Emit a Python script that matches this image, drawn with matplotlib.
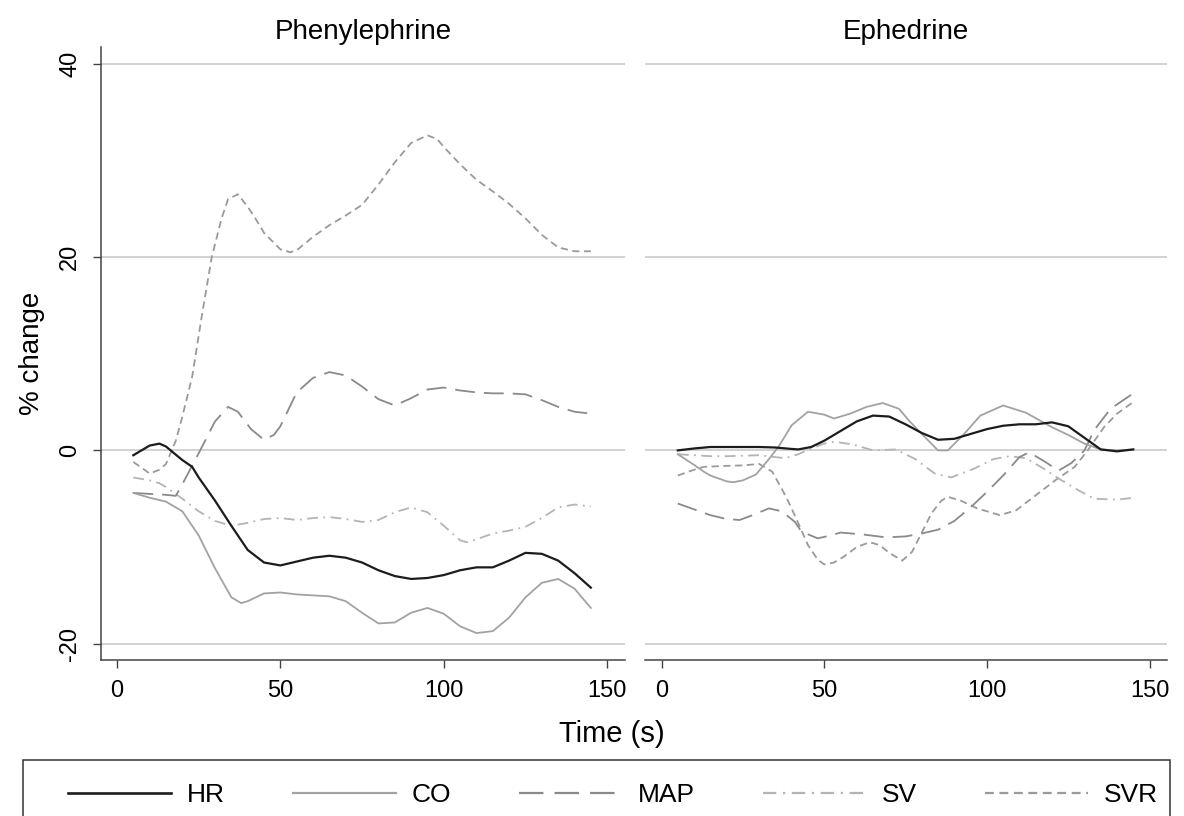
import matplotlib.pyplot as plt
from matplotlib.lines import Line2D
from matplotlib.patches import Rectangle

# Phenylephrine panel (time in s, % change)
phe_hr_t = [5, 10, 13, 15, 20, 23, 25, 30, 35, 40, 45, 50, 55, 60, 65, 70, 75, 80, 85, 90,
            95, 100, 105, 110, 115, 120, 125, 130, 135, 140, 145]
phe_hr = [-0.5, 0.5, 0.7, 0.4, -1.0, -1.7, -2.8, -5.2, -7.8, -10.3, -11.6, -11.9, -11.5, -11.1, -10.9,
          -11.1, -11.6, -12.4, -13.0, -13.3, -13.2, -12.9, -12.4, -12.1, -12.1, -11.4, -10.6, -10.7,
          -11.4, -12.7, -14.2]

phe_co_t = [5, 10, 15, 20, 25, 30, 35, 38, 40, 45, 50, 55, 60, 65, 70, 75, 80, 85, 90, 95,
            100, 105, 110, 115, 120, 125, 130, 135, 140, 145]
phe_co = [-4.4, -4.9, -5.3, -6.3, -8.8, -12.2, -15.2, -15.8, -15.6, -14.8, -14.7, -14.9, -15.0, -15.1,
          -15.6, -16.8, -17.9, -17.8, -16.8, -16.3, -16.9, -18.2, -18.9, -18.7, -17.3, -15.2, -13.7,
          -13.3, -14.3, -16.3]

phe_map_t = [5, 10, 15, 18, 20, 25, 30, 34, 37, 41, 45, 48, 50, 55, 60, 65, 70, 75, 80, 85,
             90, 95, 100, 105, 110, 115, 120, 125, 130, 135, 140, 145]
phe_map = [-4.4, -4.5, -4.6, -4.7, -3.5, -0.3, 3.0, 4.5, 4.0, 2.2, 1.1, 1.6, 2.5, 6.0, 7.5, 8.1, 7.75,
           6.6, 5.3, 4.65, 5.4, 6.3, 6.5, 6.2, 6.0, 5.9, 5.9, 5.8, 5.2, 4.5, 4.0, 3.8]

phe_sv_t = [5, 10, 13, 15, 20, 25, 30, 35, 40, 45, 50, 55, 60, 65, 70, 75, 80, 85, 90, 95,
            100, 105, 107, 110, 115, 120, 125, 130, 135, 140, 145]
phe_sv = [-2.8, -3.1, -3.4, -3.8, -5.0, -6.3, -7.3, -7.8, -7.5, -7.1, -7.0, -7.2, -7.0, -6.9, -7.1,
          -7.4, -7.2, -6.4, -5.9, -6.4, -7.8, -9.3, -9.5, -9.2, -8.6, -8.3, -7.9, -7.0, -5.9, -5.6, -5.8]

phe_svr_t = [5, 8, 10, 13, 15, 18, 20, 23, 26, 29, 32, 34, 37, 40, 42, 45, 50, 53, 55, 60,
             65, 70, 75, 80, 85, 90, 95, 98, 100, 105, 110, 115, 120, 125, 130, 135, 140, 145]
phe_svr = [-1.2, -1.9, -2.4, -2.0, -1.4, 1.0, 3.5, 7.6, 14.0, 20.0, 24.0, 26.0, 26.5, 25.2, 24.2,
           22.5, 20.8, 20.5, 20.7, 22.1, 23.3, 24.3, 25.4, 27.5, 29.8, 31.8, 32.6, 32.2, 31.4,
           29.6, 28.0, 26.8, 25.5, 24.0, 22.3, 21.0, 20.6, 20.6]

# Ephedrine panel
eph_hr_t = [5, 10, 15, 20, 25, 30, 35, 40, 42, 46, 50, 55, 60, 65, 70, 75, 80, 85, 90, 95,
            100, 105, 110, 115, 120, 125, 130, 135, 140, 145]
eph_hr = [0.0, 0.2, 0.35, 0.35, 0.35, 0.35, 0.3, 0.15, 0.1, 0.35, 1.0, 2.0, 3.0, 3.6, 3.5, 2.7, 1.8,
          1.1, 1.2, 1.7, 2.2, 2.55, 2.7, 2.7, 2.9, 2.5, 1.3, 0.1, -0.1, 0.1]

eph_co_t = [5, 10, 13, 15, 20, 22, 25, 29, 33, 36, 40, 45, 50, 53, 58, 63, 68, 73, 76, 80,
            85, 88, 93, 98, 105, 112, 120, 125, 130, 135, 140, 145]
eph_co = [-0.4, -1.5, -2.2, -2.6, -3.2, -3.3, -3.1, -2.5, -0.9, 0.4, 2.6, 4.0, 3.7, 3.3, 3.8, 4.5,
          4.9, 4.3, 3.1, 1.7, 0.0, 0.0, 1.7, 3.6, 4.65, 3.9, 2.4, 1.6, 0.7, 0.1, 0.0, 0.1]

eph_map_t = [5, 10, 15, 20, 24, 28, 33, 37, 41, 43, 48, 52, 55, 62, 69, 75, 80, 85, 90, 95,
             100, 105, 110, 113, 118, 122, 126, 130, 133, 138, 145]
eph_map = [-5.5, -6.1, -6.7, -7.1, -7.2, -6.7, -6.0, -6.3, -7.4, -8.4, -9.1, -8.8, -8.5, -8.7, -9.0,
           -8.9, -8.6, -8.2, -7.3, -5.9, -4.3, -2.6, -0.7, -0.2, -1.2, -2.1, -1.3, 0.0, 2.1, 4.3, 5.9]

eph_sv_t = [5, 10, 15, 20, 25, 30, 35, 38, 42, 46, 50, 53, 59, 65, 72, 78, 84, 89, 96, 102,
            107, 112, 118, 122, 128, 133, 140, 145]
eph_sv = [-0.4, -0.5, -0.6, -0.6, -0.55, -0.5, -0.7, -0.8, -0.4, 0.2, 0.7, 0.9, 0.6, 0.0, 0.1, -0.9,
          -2.4, -2.8, -1.9, -0.9, -0.6, -0.8, -2.0, -2.9, -4.1, -5.0, -5.1, -4.9]

eph_svr_t = [5, 10, 13, 20, 25, 30, 34, 37, 39, 42, 45, 48, 50, 53, 56, 60, 64, 67, 70, 74,
             77, 80, 83, 86, 88, 92, 97, 104, 109, 115, 121, 127, 131, 136, 140, 145]
eph_svr = [-2.6, -2.0, -1.7, -1.6, -1.55, -1.4, -2.2, -4.0, -5.3, -7.5, -9.8, -11.3, -11.8, -11.6,
           -11.0, -10.0, -9.5, -9.8, -10.6, -11.4, -10.5, -8.5, -6.5, -5.2, -4.8, -5.2, -6.0, -6.7,
           -6.2, -4.65, -3.1, -1.7, 0.0, 2.4, 3.8, 5.0]

panel_titles = ['Phenylephrine', 'Ephedrine']
series_labels = ['HR', 'CO', 'MAP', 'SV', 'SVR']
y_ticks = [-20, 0, 20, 40]
x_ticks = [0, 50, 100, 150]

# line styles: colour, width, dash pattern
styles = {
    'HR': dict(color='#1c1c1c', lw=1.6, dashes=()),
    'CO': dict(color='#a2a2a2', lw=1.3, dashes=()),
    'MAP': dict(color='#8a8a8a', lw=1.3, dashes=(11, 5)),
    'SV': dict(color='#b4b4b4', lw=1.3, dashes=(6, 3, 1, 3)),
    'SVR': dict(color='#9a9a9a', lw=1.3, dashes=(4, 2.5)),
}


def draw_line(ax, t, v, name):
    st = styles[name]
    line, = ax.plot(t, v, color=st['color'], lw=st['lw'])
    if st['dashes']:
        line.set_dashes(st['dashes'])
    return line


def main():
    plt.rcParams['font.family'] = ['Liberation Sans', 'DejaVu Sans']
    plt.rcParams['axes.unicode_minus'] = False

    fig = plt.figure(figsize=(11.84, 8.16), dpi=100)
    ax1 = fig.add_axes([0.085, 0.191, 0.443, 0.751])
    ax2 = fig.add_axes([0.545, 0.191, 0.441, 0.751])

    panels = [
        (ax1, [(phe_hr_t, phe_hr), (phe_co_t, phe_co), (phe_map_t, phe_map),
               (phe_sv_t, phe_sv), (phe_svr_t, phe_svr)]),
        (ax2, [(eph_hr_t, eph_hr), (eph_co_t, eph_co), (eph_map_t, eph_map),
               (eph_sv_t, eph_sv), (eph_svr_t, eph_svr)]),
    ]

    for i, (ax, data) in enumerate(panels):
        # 横のグリッド
        for yv in y_ticks:
            ax.axhline(yv, color='#c6c6c6', lw=1.1, zorder=0)
        # 逆順で描く (HR を一番上に)
        for (t, v), name in reversed(list(zip(data, series_labels))):
            draw_line(ax, t, v, name)

        ax.set_xlim(-5, 155.5)
        ax.set_ylim(-21.7, 41.7)
        ax.set_xticks(x_ticks)
        ax.set_title(panel_titles[i], fontsize=20, pad=6)
        ax.spines['top'].set_visible(False)
        ax.spines['right'].set_visible(False)
        ax.spines['bottom'].set_color('#444444')
        ax.spines['bottom'].set_linewidth(1.1)
        ax.tick_params(axis='x', labelsize=17, length=6, width=1.0, color='#444444', pad=8)

        if i == 0:
            ax.spines['left'].set_color('#444444')
            ax.spines['left'].set_linewidth(1.1)
            ax.set_yticks(y_ticks)
            ax.tick_params(axis='y', labelsize=17, length=6, width=1.0, color='#444444', pad=8)
            for lab in ax.get_yticklabels():
                lab.set_rotation(90)
                lab.set_va('center')
            ax.set_ylabel('% change', fontsize=20, labelpad=10)
        else:
            ax.spines['left'].set_visible(False)
            ax.set_yticks([])

    fig.text(0.517, 0.101, 'Time (s)', fontsize=21, ha='center', va='center')

    # 凡例の枠
    fig.patches.append(Rectangle((23 / 1184, -0.01), 1147 / 1184, 0.0786,
                                 transform=fig.transFigure, fill=False,
                                 edgecolor='#333333', lw=1.1))

    # 凡例
    handles = []
    for name in series_labels:
        st = styles[name]
        h = Line2D([], [], color=st['color'], lw=st['lw'] + 0.3)
        if st['dashes']:
            h.set_dashes(st['dashes'])
        handles.append(h)
    fig.legend(handles, series_labels, loc='center left', ncol=5, mode='expand',
               bbox_to_anchor=(68 / 1184, 0.001, 1090 / 1184, 0.05), fontsize=19,
               handlelength=3.9, handletextpad=0.6, columnspacing=2.0,
               frameon=False, borderaxespad=0.0, borderpad=0.0)

    # 画像として保存
    plt.savefig('out.png', dpi=100)


if __name__ == '__main__':
    main()
